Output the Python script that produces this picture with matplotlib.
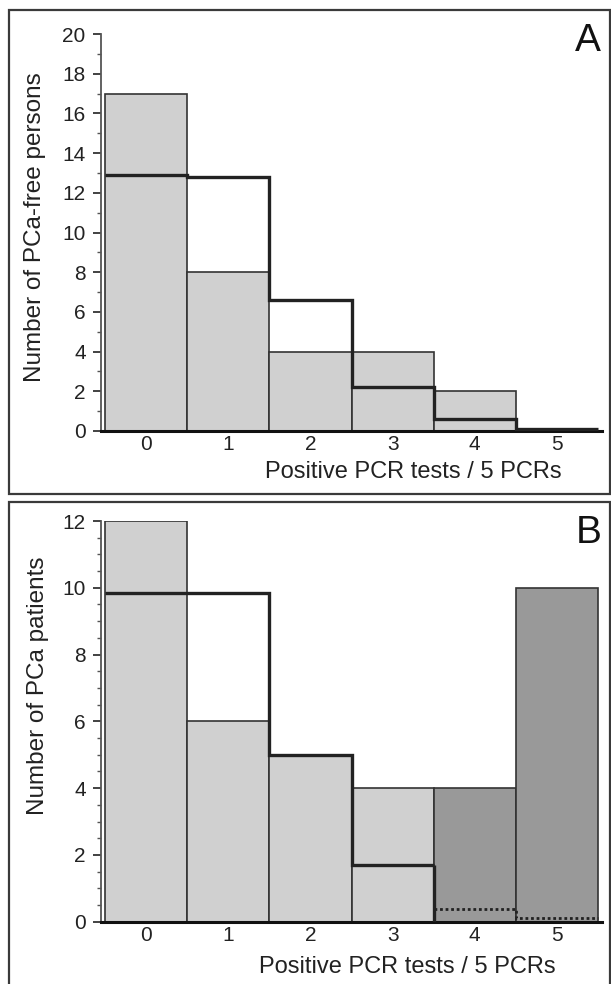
import matplotlib
matplotlib.use('Agg')
import matplotlib.pyplot as plt
from matplotlib.patches import Rectangle
from matplotlib.ticker import MultipleLocator

plt.rcParams['font.family'] = ['Liberation Sans', 'DejaVu Sans']

# Number of positive PCR tests out of 5
categories = [0, 1, 2, 3, 4, 5]
tick_labels = ['0', '1', '2', '3', '4', '5']
edges = [-0.5, 0.5, 1.5, 2.5, 3.5, 4.5, 5.5]

# Panel A: PCa-free persons (observed bars, expected step line)
free_observed = [17, 8, 4, 4, 2, 0]
free_expected = [12.9, 12.8, 6.6, 2.2, 0.6, 0.1]

# Panel B: PCa patients (observed bars, expected step line; last two dotted)
patient_observed = [12, 6, 5, 4, 4, 10]
patient_expected = [9.85, 9.85, 5.0, 1.7]
patient_expected_tail = [0.38, 0.1]

light = '#d0d0d0'
dark = '#999999'
line_col = '#222222'

fig = plt.figure(figsize=(6.11, 9.84), dpi=100)

# panel frames
for y0, y1 in [(10, 494), (502, 990)]:
    fig.patches.append(Rectangle((9 / 611, 1 - y1 / 984), 600.5 / 611, (y1 - y0) / 984,
                                 transform=fig.transFigure, fill=False,
                                 edgecolor='#3a3a3a', linewidth=1.6))

axA = fig.add_axes([101 / 611, 1 - 431 / 984, 501 / 611, 397 / 984])
axB = fig.add_axes([101 / 611, 1 - 921.7 / 984, 501 / 611, 400.7 / 984])


def style_axis(ax, ymax, minor):
    ax.set_xlim(-0.55, 5.55)
    ax.set_ylim(0, ymax)
    ax.spines['top'].set_visible(False)
    ax.spines['right'].set_visible(False)
    ax.spines['left'].set_color('#555555')
    ax.spines['left'].set_linewidth(1.3)
    ax.spines['bottom'].set_color('#111111')
    ax.spines['bottom'].set_linewidth(2.2)
    ax.set_xticks(categories)
    ax.set_xticklabels(tick_labels)
    ax.yaxis.set_major_locator(MultipleLocator(2))
    ax.yaxis.set_minor_locator(MultipleLocator(minor))
    ax.tick_params(axis='x', length=0, pad=3, labelsize=15, colors='#222222')
    ax.tick_params(axis='y', which='major', length=6, width=1.2, pad=5,
                   labelsize=15, colors='#222222')
    ax.tick_params(axis='y', which='minor', length=3, width=1.0, colors='#555555')


# Panel A
axA.bar(categories, free_observed, width=1.0, color=light,
        edgecolor='#333333', linewidth=1.2, zorder=2)
axA.stairs(free_expected, edges, baseline=None, color=line_col,
           linewidth=2.4, zorder=3)
style_axis(axA, 20, 1)

# Panel B
colors_b = [light, light, light, light, dark, dark]
axB.bar(categories, patient_observed, width=1.0, color=colors_b,
        edgecolor='#333333', linewidth=1.2, zorder=2)
axB.stairs(patient_expected, edges[:5], baseline=None, color=line_col,
           linewidth=2.4, zorder=3)
axB.vlines(edges[4], 0, patient_expected[-1], color=line_col, linewidth=2.4, zorder=3)
axB.stairs(patient_expected_tail, edges[4:], baseline=None, color=line_col,
           linewidth=2.0, linestyle=(0, (1, 1)), zorder=3)
style_axis(axB, 12, 0.5)

# labels
fig.text(35 / 611, 1 - 227 / 984, 'Number of PCa-free persons', rotation=90,
         ha='center', va='center', fontsize=17.5, color='#222222')
fig.text(38 / 611, 1 - 686 / 984, 'Number of PCa patients', rotation=90,
         ha='center', va='center', fontsize=17.5, color='#222222')
fig.text(413 / 611, 1 - 478 / 984, 'Positive PCR tests / 5 PCRs',
         ha='center', va='baseline', fontsize=17, color='#222222')
fig.text(407 / 611, 1 - 973 / 984, 'Positive PCR tests / 5 PCRs',
         ha='center', va='baseline', fontsize=17, color='#222222')
fig.text(588 / 611, 1 - 41 / 984, 'A', ha='center', va='center',
         fontsize=28, color='#111111')
fig.text(589 / 611, 1 - 533 / 984, 'B', ha='center', va='center',
         fontsize=28, color='#111111')

fig.savefig('out.png', dpi=100)
